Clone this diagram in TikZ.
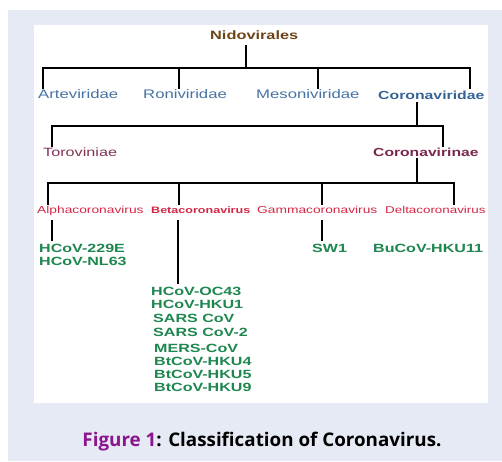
\documentclass[tikz,border=0pt]{standalone}
\usepackage{fontspec}
\setmainfont{Liberation Sans}[FakeStretch=1.35]
\newfontfamily\capfont{Open Sans}
\definecolor{panelbg}{RGB}{230,234,245}
\definecolor{nidoc}{RGB}{110,68,22}
\definecolor{famc}{RGB}{70,115,165}
\definecolor{famcb}{RGB}{55,100,150}
\definecolor{subc}{RGB}{130,50,85}
\definecolor{subcb}{RGB}{120,40,75}
\definecolor{genc}{RGB}{210,40,70}
\definecolor{spcc}{RGB}{30,135,80}
\definecolor{capc}{RGB}{140,20,140}
\begin{document}
\begin{tikzpicture}[x=1pt,y=-1pt,
  lab/.style={inner sep=0pt, anchor=base west},
  nidolab/.style={lab, text=nidoc, font=\fontsize{12.1}{14}\selectfont\bfseries},
  famlab/.style={lab, text=famc, font=\fontsize{12.4}{14}\selectfont},
  famblab/.style={lab, text=famcb, font=\fontsize{11.7}{13}\selectfont\bfseries},
  sublab/.style={lab, text=subc, font=\fontsize{12}{14}\selectfont},
  subblab/.style={lab, text=subcb, font=\fontsize{11.6}{13}\selectfont\bfseries},
  genlab/.style={lab, text=genc, font=\fontsize{10.2}{12}\selectfont},
  genblab/.style={lab, text=genc, font=\fontsize{9.3}{12}\selectfont\bfseries},
  spclab/.style={lab, text=spcc, font=\fontsize{11.9}{13}\selectfont\bfseries},
  conn/.style={line width=1.8pt, black, line join=miter}
]
\useasboundingbox (0,0) rectangle (502,461);
\fill[panelbg] (8,10) rectangle (502,461);
\fill[white] (34,25) rectangle (488,403);

% labels
\node[nidolab] (nido) at (210,39.3) {Nidovirales};
\node[famlab] (arte) at (38,98.7) {Arteviridae};
\node[famlab] (roni) at (143,98.7) {Roniviridae};
\node[famlab] (meso) at (256,98.7) {Mesoniviridae};
\node[famblab] (corv) at (378,99.5) {Coronaviridae};
\node[sublab] (toro) at (43,156) {Toroviniae};
\node[subblab] (corn) at (373,156) {Coronavirinae};
\node[genlab] (alpha) at (37,213.3) {Alphacoronavirus};
\node[genblab] (beta) at (151,213.3) {Betacoronavirus};
\node[genlab] (gamma) at (257,213.3) {Gammacoronavirus};
\node[genlab, font=\fontsize{9.9}{12}\selectfont] (delta) at (385,213.3) {Deltacoronavirus};
\node[spclab] (s229e) at (39,252.5) {HCoV-229E};
\node[spclab] (snl63) at (39,265.7) {HCoV-NL63};
\node[spclab] (sw1) at (312,252.5) {SW1};
\node[spclab] (bucov) at (373,252.5) {BuCoV-HKU11};
\node[spclab] (oc43) at (151,295) {HCoV-OC43};
\node[spclab] (hku1) at (151,308.3) {HCoV-HKU1};
\node[spclab] (sars) at (153,322.7) {SARS CoV};
\node[spclab] (sars2) at (153,336) {SARS CoV-2};
\node[spclab] (mers) at (154,352) {MERS-CoV};
\node[spclab] (hku4) at (154,365) {BtCoV-HKU4};
\node[spclab] (hku5) at (154,378.3) {BtCoV-HKU5};
\node[spclab] (hku9) at (154,391) {BtCoV-HKU9};

% junction coordinates
\coordinate (n0) at (246,45);
\coordinate (n1) at (246,68);
\coordinate (a1) at (43,89);
\coordinate (r1) at (179,89);
\coordinate (m1) at (318,89);
\coordinate (c1) at (470,89);
\coordinate (cv0) at (417,102);
\coordinate (cv1) at (417,126);
\coordinate (t2) at (52,147);
\coordinate (cn2) at (443,147);
\coordinate (cn0) at (417,158);
\coordinate (cn1) at (417,183);
\coordinate (al3) at (48,205);
\coordinate (be3) at (179,205);
\coordinate (ga3) at (322,205);
\coordinate (de3) at (454,205);
\coordinate (al4) at (52,220);
\coordinate (al5) at (52,241);
\coordinate (be4) at (178,220);
\coordinate (be5) at (178,284);
\coordinate (ga4) at (322,220);
\coordinate (ga5) at (322,241);

% level 1
\draw[conn] (n0) -- (n1);
\draw[conn] (a1) -- (a1 |- n1) -- (c1 |- n1) -- (c1);
\draw[conn] (r1) -- (r1 |- n1);
\draw[conn] (m1) -- (m1 |- n1);
% level 2
\draw[conn] (cv0) -- (cv1);
\draw[conn] (t2) -- (t2 |- cv1) -- (cn2 |- cv1) -- (cn2);
% level 3
\draw[conn] (cn0) -- (cn1);
\draw[conn] (al3) -- (al3 |- cn1) -- (de3 |- cn1) -- (de3);
\draw[conn] (be3) -- (be3 |- cn1);
\draw[conn] (ga3) -- (ga3 |- cn1);
% level 4
\draw[conn] (al4) -- (al5);
\draw[conn] (be4) -- (be5);
\draw[conn] (ga4) -- (ga5);

% caption
\node[inner sep=0pt, anchor=base, font=\capfont\fontsize{18.8}{22}\selectfont\bfseries] (cap) at (262,446.7)
  {\textcolor{capc}{Figure 1}: Classification of Coronavirus.};
\end{tikzpicture}
\end{document}
